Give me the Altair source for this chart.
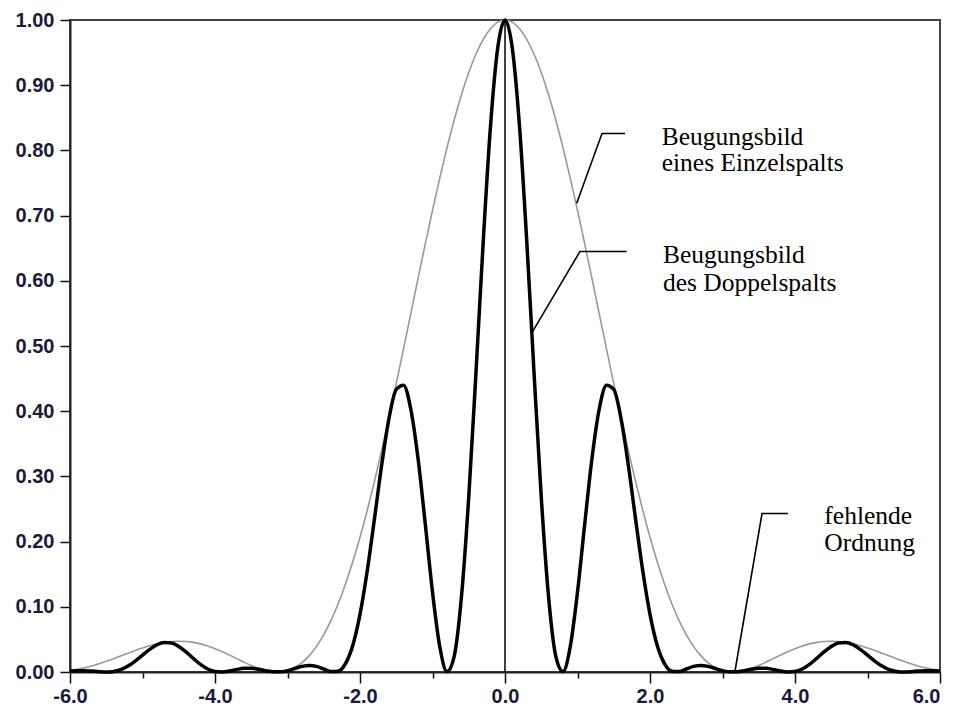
import altair as alt
import pandas as pd

# sample positions along the x axis
X = [-6.0, -5.9, -5.8, -5.7, -5.6, -5.5, -5.4, -5.3, -5.2, -5.1,
     -5.0, -4.9, -4.8, -4.7, -4.6, -4.5, -4.4, -4.3, -4.2, -4.1,
     -4.0, -3.9, -3.8, -3.7, -3.6, -3.5, -3.4, -3.3, -3.2, -3.1,
     -3.0, -2.9, -2.8, -2.7, -2.6, -2.5, -2.4, -2.3, -2.2, -2.1,
     -2.0, -1.9, -1.8, -1.7, -1.6, -1.5, -1.4, -1.3, -1.2, -1.1,
     -1.0, -0.9, -0.8, -0.7, -0.6, -0.5, -0.4, -0.3, -0.2, -0.1,
     0.0,
     0.1, 0.2, 0.3, 0.4, 0.5, 0.6, 0.7, 0.8, 0.9, 1.0,
     1.1, 1.2, 1.3, 1.4, 1.5, 1.6, 1.7, 1.8, 1.9, 2.0,
     2.1, 2.2, 2.3, 2.4, 2.5, 2.6, 2.7, 2.8, 2.9, 3.0,
     3.1, 3.2, 3.3, 3.4, 3.5, 3.6, 3.7, 3.8, 3.9, 4.0,
     4.1, 4.2, 4.3, 4.4, 4.5, 4.6, 4.7, 4.8, 4.9, 5.0,
     5.1, 5.2, 5.3, 5.4, 5.5, 5.6, 5.7, 5.8, 5.9, 6.0]

# grey curve: diffraction pattern of a single slit
SINGLE = [0.0022, 0.0040, 0.0064, 0.0093, 0.0127, 0.0165, 0.0205, 0.0247, 0.0289, 0.0330,
          0.0368, 0.0402, 0.0431, 0.0453, 0.0467, 0.0472, 0.0468, 0.0454, 0.0431, 0.0398,
          0.0358, 0.0311, 0.0259, 0.0205, 0.0151, 0.0100, 0.0057, 0.0023, 0.0003, 0.0002,
          0.0022, 0.0068, 0.0143, 0.0251, 0.0393, 0.0573, 0.0792, 0.1051, 0.1351, 0.1690,
          0.2067, 0.2481, 0.2927, 0.3403, 0.3903, 0.4422, 0.4955, 0.5494, 0.6033, 0.6564,
          0.7081, 0.7575, 0.8041, 0.8470, 0.8856, 0.9194, 0.9478, 0.9704, 0.9867, 0.9967,
          1.0000,
          0.9967, 0.9867, 0.9704, 0.9478, 0.9194, 0.8856, 0.8470, 0.8041, 0.7575, 0.7081,
          0.6564, 0.6033, 0.5494, 0.4955, 0.4422, 0.3903, 0.3403, 0.2927, 0.2481, 0.2067,
          0.1690, 0.1351, 0.1051, 0.0792, 0.0573, 0.0393, 0.0251, 0.0143, 0.0068, 0.0022,
          0.0002, 0.0003, 0.0023, 0.0057, 0.0100, 0.0151, 0.0205, 0.0259, 0.0311, 0.0358,
          0.0398, 0.0431, 0.0454, 0.0468, 0.0472, 0.0467, 0.0453, 0.0431, 0.0402, 0.0368,
          0.0330, 0.0289, 0.0247, 0.0205, 0.0165, 0.0127, 0.0093, 0.0064, 0.0040, 0.0022]

# black curve: diffraction pattern of the double slit
DOUBLE = [0.0016, 0.0021, 0.0021, 0.0014, 0.0005, 0.0000, 0.0008, 0.0037, 0.0091, 0.0168,
          0.0259, 0.0348, 0.0418, 0.0452, 0.0444, 0.0392, 0.0308, 0.0209, 0.0116, 0.0046,
          0.0008, 0.0001, 0.0016, 0.0039, 0.0056, 0.0057, 0.0043, 0.0021, 0.0003, 0.0002,
          0.0020, 0.0053, 0.0086, 0.0101, 0.0086, 0.0046, 0.0006, 0.0013, 0.0128, 0.0406,
          0.0883, 0.1552, 0.2354, 0.3181, 0.3890, 0.4334, 0.4399, 0.4034, 0.3280, 0.2273,
          0.1226, 0.0391, 0.0007, 0.0245, 0.1163, 0.2684, 0.4601, 0.6610, 0.8371, 0.9573,
          1.0000,
          0.9573, 0.8371, 0.6610, 0.4601, 0.2684, 0.1163, 0.0245, 0.0007, 0.0391, 0.1226,
          0.2273, 0.3280, 0.4034, 0.4399, 0.4334, 0.3890, 0.3181, 0.2354, 0.1552, 0.0883,
          0.0406, 0.0128, 0.0013, 0.0006, 0.0046, 0.0086, 0.0101, 0.0086, 0.0053, 0.0020,
          0.0002, 0.0003, 0.0021, 0.0043, 0.0057, 0.0056, 0.0039, 0.0016, 0.0001, 0.0008,
          0.0046, 0.0116, 0.0209, 0.0308, 0.0392, 0.0444, 0.0452, 0.0418, 0.0348, 0.0259,
          0.0168, 0.0091, 0.0037, 0.0008, 0.0000, 0.0005, 0.0014, 0.0021, 0.0021, 0.0016]

# axis ticks
X_TICKS = [-6.0, -5.5, -5.0, -4.5, -4.0, -3.5, -3.0, -2.5, -2.0, -1.5, -1.0, -0.5, 0.0,
           0.5, 1.0, 1.5, 2.0, 2.5, 3.0, 3.5, 4.0, 4.5, 5.0, 5.5, 6.0]
Y_TICKS = [0.0, 0.1, 0.2, 0.3, 0.4, 0.5, 0.6, 0.7, 0.8, 0.9, 1.0]

# annotation leader lines (data coordinates)
LEADER_GROUP = ["a", "a", "a", "b", "b", "b", "c", "c", "c"]
LEADER_ORDER = [0, 1, 2, 0, 1, 2, 0, 1, 2]
LEADER_X = [1.655, 1.338, 0.989, 1.678, 1.034, 0.370, 3.903, 3.545, 3.170]
LEADER_Y = [0.826, 0.826, 0.719, 0.645, 0.645, 0.520, 0.243, 0.243, 0.000]

# annotation texts
LABEL_TEXT = ["Beugungsbild", "eines Einzelspalts", "Beugungsbild", "des Doppelspalts",
              "fehlende", "Ordnung"]
LABEL_X = [2.161, 2.161, 2.179, 2.179, 4.405, 4.405]
LABEL_Y = [0.808, 0.768, 0.628, 0.585, 0.227, 0.186]

ZERO_X = [0.0]
ZERO_Y = [0.0]
ZERO_Y2 = [1.0]

single_df = pd.DataFrame({"x": X, "y": SINGLE})
double_df = pd.DataFrame({"x": X, "y": DOUBLE})
leader_df = pd.DataFrame({"x": LEADER_X, "y": LEADER_Y, "g": LEADER_GROUP, "o": LEADER_ORDER})
label_df = pd.DataFrame({"x": LABEL_X, "y": LABEL_Y, "t": LABEL_TEXT})
zero_df = pd.DataFrame({"x": ZERO_X, "y": ZERO_Y, "y2": ZERO_Y2})

x_scale = alt.Scale(domain=[-6, 6], nice=False, zero=False)
y_scale = alt.Scale(domain=[0, 1], nice=False, zero=False)

x_axis = alt.Axis(
    values=X_TICKS,
    title=None,
    grid=False,
    labelExpr="datum.value % 2 == 0 ? ((datum.value < 0 ? '-' : '') + format(abs(datum.value), '.1f')) : ''",
    tickSize={"condition": {"test": "datum.value % 2 == 0", "value": 11}, "value": 6},
    labelAlign={"condition": {"test": "datum.value >= 6", "value": "right"}, "value": "center"},
    labelPadding=3,
    labelFlush=False,
    labelOverlap=False,
)
y_axis = alt.Axis(
    values=Y_TICKS,
    title=None,
    grid=False,
    format=".2f",
    tickSize=10,
    labelPadding=6,
    labelFlush=False,
    labelOverlap=False,
)

X_ENC = alt.X("x:Q", scale=x_scale, axis=x_axis)
Y_ENC = alt.Y("y:Q", scale=y_scale, axis=y_axis)

single = alt.Chart(single_df).mark_line(
    color="#999999", strokeWidth=1.6, interpolate="monotone"
).encode(x=X_ENC, y=Y_ENC)

double = alt.Chart(double_df).mark_line(
    color="#000000", strokeWidth=3.5, interpolate="monotone"
).encode(x=alt.X("x:Q", scale=x_scale), y=alt.Y("y:Q", scale=y_scale))

zero = alt.Chart(zero_df).mark_rule(color="#000000", strokeWidth=1.5).encode(
    x=alt.X("x:Q", scale=x_scale), y=alt.Y("y:Q", scale=y_scale), y2="y2:Q"
)

leaders = alt.Chart(leader_df).mark_line(color="#000000", strokeWidth=1.6).encode(
    x=alt.X("x:Q", scale=x_scale),
    y=alt.Y("y:Q", scale=y_scale),
    detail="g:N",
    order="o:Q",
)

labels = alt.Chart(label_df).mark_text(
    font="Liberation Serif", fontSize=25.5, color="#000000", align="left", baseline="alphabetic"
).encode(
    x=alt.X("x:Q", scale=x_scale),
    y=alt.Y("y:Q", scale=y_scale),
    text="t:N",
)

chart = alt.layer(single, double, zero, leaders, labels).properties(
    width=870,
    height=652,
    autosize="none",
    padding={"left": 62, "top": 12, "right": 9, "bottom": 34},
).configure_view(
    stroke="#444444", strokeWidth=2
).configure_axis(
    domainColor="#222222",
    domainWidth=2,
    tickColor="#111111",
    tickWidth=1.5,
    labelFont="Liberation Sans",
    labelFontWeight="bold",
    labelFontSize=20,
    labelColor="#1a1a3a",
)

chart.save("out.html", embed_options={"renderer": "svg", "actions": False})
